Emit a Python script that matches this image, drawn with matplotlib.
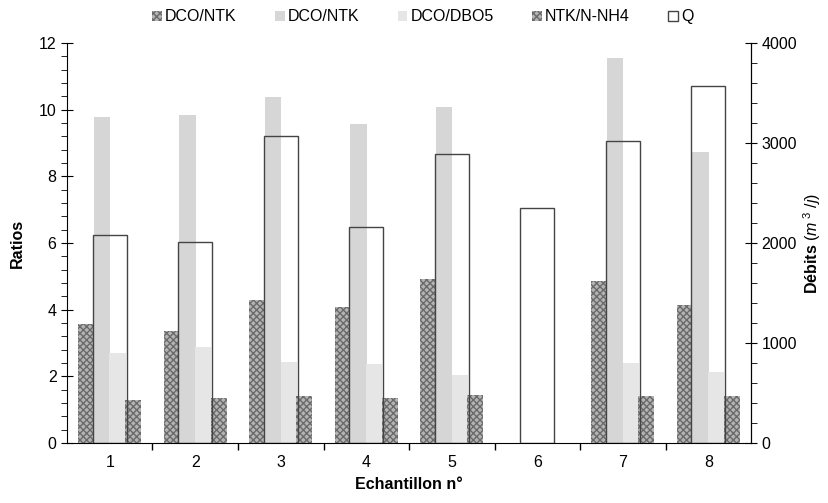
import numpy as np
import matplotlib
matplotlib.use("Agg")
import matplotlib.pyplot as plt
from matplotlib.ticker import MultipleLocator

plt.rcParams['font.family'] = ['Liberation Sans', 'DejaVu Sans']
plt.rcParams['mathtext.fontset'] = 'custom'
plt.rcParams['mathtext.it'] = 'Liberation Sans:italic'
plt.rcParams['mathtext.rm'] = 'Liberation Sans'
plt.rcParams['hatch.linewidth'] = 1.0

# data
samples = ["1", "2", "3", "4", "5", "6", "7", "8"]
dco_ntk_a = [3.58, 3.37, 4.30, 4.07, 4.93, np.nan, 4.85, 4.13]
dco_ntk_b = [9.77, 9.83, 10.37, 9.57, 10.07, np.nan, 11.55, 8.73]
dco_dbo5 = [2.70, 2.88, 2.43, 2.37, 2.03, np.nan, 2.40, 2.12]
ntk_nh4 = [1.30, 1.35, 1.42, 1.35, 1.45, np.nan, 1.42, 1.42]
debit_q = [2077, 2007, 3073, 2160, 2890, 2350, 3023, 3573]

x = np.arange(len(samples))
w = 0.19
fs = 11.5

fig = plt.figure(figsize=(8.29, 5.03), dpi=100)
ax = fig.add_axes([0.0808, 0.1193, 0.8252, 0.7952])
ax2 = ax.twinx()
ax.set_zorder(1)
ax.patch.set_visible(False)

b1 = ax.bar(x - 0.275, dco_ntk_a, w, facecolor='#b4b4b4', edgecolor='#6a6a6a',
            hatch='xxxxx', lw=0, label='DCO/NTK')
b2 = ax.bar(x - 0.092, dco_ntk_b, w, color='#d6d6d6', lw=0, label='DCO/NTK')
b3 = ax.bar(x + 0.092, dco_dbo5, w, color='#e6e6e6', lw=0, label='DCO/DBO5')
b4 = ax.bar(x + 0.275, ntk_nh4, w, facecolor='#b4b4b4', edgecolor='#6a6a6a',
            hatch='xxxxx', lw=0, label='NTK/N-NH4')

# Q drawn hollow, on top of the ratio bars
bq = ax2.bar(x, debit_q, 0.40, facecolor='none', edgecolor='#444444', lw=1.0,
             label='Q', zorder=5)
ax2.set_zorder(2)
ax2.patch.set_visible(False)

ax.set_xlim(-0.5, len(samples) - 0.5)
ax.set_ylim(0, 12)
ax2.set_ylim(0, 4000)

ax.set_xticks(x)
ax.set_xticklabels(samples, fontsize=fs)
ax.set_xticks(x[:-1] + 0.5, minor=True)
ax.tick_params(axis='x', which='major', length=0, pad=9)
ax.tick_params(axis='x', which='minor', length=5, direction='out', width=1)

ax.yaxis.set_major_locator(MultipleLocator(2))
ax.yaxis.set_minor_locator(MultipleLocator(0.4))
ax.tick_params(axis='y', which='major', direction='inout', length=8, labelsize=fs)
ax.tick_params(axis='y', which='minor', direction='out', length=4)

ax2.yaxis.set_major_locator(MultipleLocator(1000))
ax2.yaxis.set_minor_locator(MultipleLocator(200))
ax2.tick_params(axis='y', which='major', direction='inout', length=8, labelsize=fs)
ax2.tick_params(axis='y', which='minor', direction='out', length=4)

for a in (ax, ax2):
    a.spines['top'].set_visible(False)
ax2.spines['left'].set_visible(False)
ax2.spines['bottom'].set_visible(False)

ax.set_ylabel('Ratios', fontsize=fs, fontweight='bold', labelpad=10)
ax.set_xlabel('Echantillon n°', fontsize=fs, fontweight='bold', labelpad=5)
ax2.set_ylabel(r'Débits $(m^{\ 3}\ /j)$', fontsize=fs, fontweight='bold', labelpad=3)

handles = [b1, b2, b3, b4, bq]
labels = ['DCO/NTK', 'DCO/NTK', 'DCO/DBO5', 'NTK/N-NH4', 'Q']
fig.legend(handles, labels, loc='upper center', bbox_to_anchor=(0.51, 1.01), ncol=5,
           frameon=False, fontsize=fs, handlelength=0.6, handleheight=0.6,
           handletextpad=0.2, columnspacing=2.4)

fig.savefig('out.png', dpi=100)
